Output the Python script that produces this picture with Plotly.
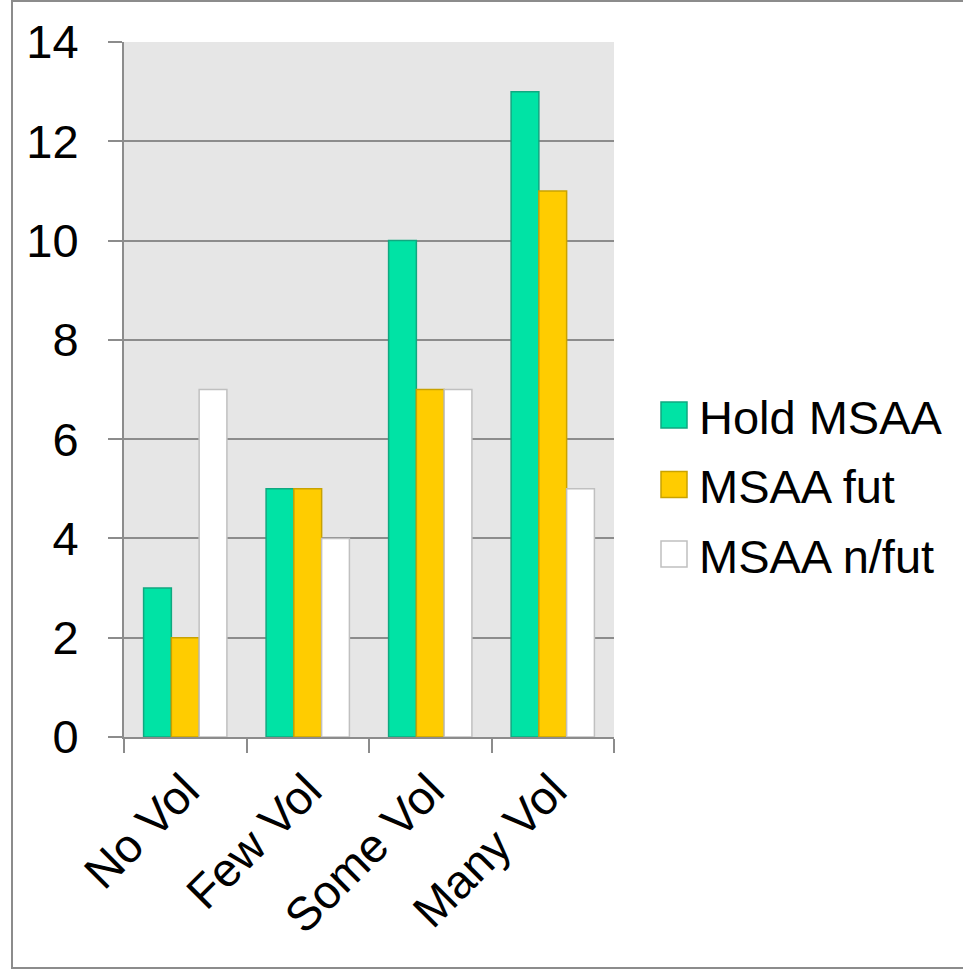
import plotly.graph_objects as go

categories = ["No Vol", "Few Vol", "Some Vol", "Many Vol"]
hold_msaa = [3, 5, 10, 13]
msaa_fut = [2, 5, 7, 11]
msaa_nfut = [7, 4, 7, 5]

series = [
    ("Hold MSAA", hold_msaa, "#00e3a5", "#10a880"),
    ("MSAA fut", msaa_fut, "#ffcc00", "#c9a200"),
    ("MSAA n/fut", msaa_nfut, "#ffffff", "#c0c0c0"),
]

FONT = "Liberation Sans, Arial, sans-serif"
FS = 47
L, R, T, B = 124, 349, 42, 241
W, H = 963, 978
pw, ph = W - L - R, H - T - B


def px_x(px):
    return (px - L) / pw


def px_y(py):
    return (H - B - py) / ph


fig = go.Figure()
for name, vals, fill, edge in series:
    fig.add_trace(go.Bar(
        x=categories, y=vals, name=name, showlegend=False,
        marker=dict(color=fill, line=dict(color=edge, width=1.5)),
    ))

# Frame around the whole chart, then the legend swatches and labels
shapes = [dict(
    type="rect", xref="paper", yref="paper",
    x0=px_x(12), x1=px_x(972), y0=px_y(968), y1=px_y(1),
    line=dict(color="#8c8c8c", width=2), fillcolor="rgba(0,0,0,0)",
    layer="below",
)]
annotations = []
sq = 26
for i, (name, vals, fill, edge) in enumerate(series):
    cy = 415 + i * 69.5
    shapes.append(dict(
        type="rect", xref="paper", yref="paper",
        x0=px_x(661), x1=px_x(661 + sq),
        y0=px_y(cy + sq / 2), y1=px_y(cy - sq / 2),
        fillcolor=fill, line=dict(color=edge, width=1.5),
    ))
    annotations.append(dict(
        xref="paper", yref="paper", x=px_x(697), y=px_y(cy + 2),
        xanchor="left", yanchor="middle", text=name, showarrow=False,
        font=dict(family=FONT, size=FS, color="black"),
    ))

fig.update_layout(
    width=W, height=H,
    margin=dict(l=L, r=R, t=T, b=B),
    paper_bgcolor="white",
    plot_bgcolor="#e6e6e6",
    barmode="group",
    bargap=0.32,
    bargroupgap=0,
    font=dict(family=FONT, size=FS, color="black"),
    showlegend=False,
    xaxis=dict(
        tickson="boundaries", ticks="outside", ticklen=14, tickwidth=2,
        tickcolor="#8c8c8c", showgrid=False, showline=True,
        linecolor="#8c8c8c", linewidth=2, tickangle=-45,
        tickfont=dict(family=FONT, size=FS), ticklabelstandoff=5,
    ),
    yaxis=dict(
        range=[0, 14], dtick=2, ticks="outside", ticklen=14, tickwidth=2,
        tickcolor="#8c8c8c", showgrid=True, gridcolor="#8c8c8c", gridwidth=2,
        showline=True, linecolor="#8c8c8c", linewidth=2, zeroline=False,
        tickfont=dict(family=FONT, size=FS), ticklabelstandoff=20,
    ),
    shapes=shapes,
    annotations=annotations,
)

fig.write_html("out.html")
